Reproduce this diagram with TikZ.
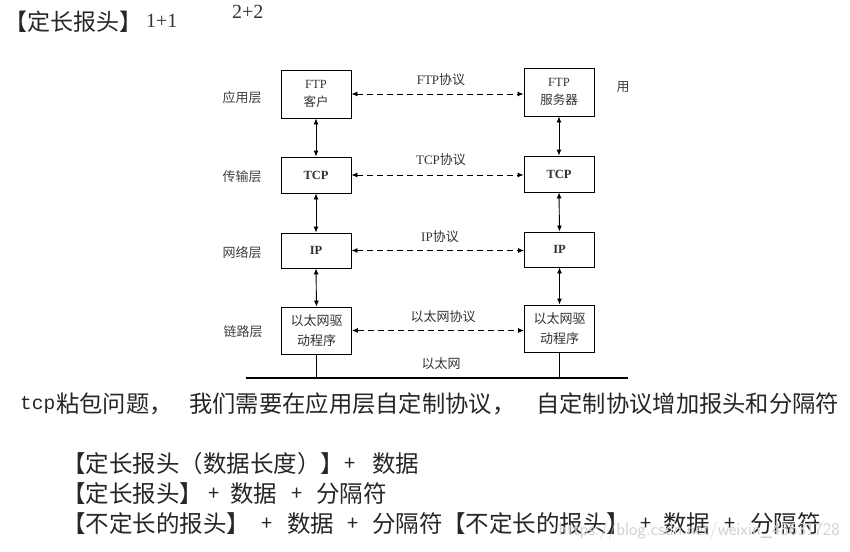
\documentclass[tikz,border=0pt]{standalone}
\usepackage{fontspec}
\setmainfont{Liberation Serif}
\setmonofont{Liberation Mono}
\newfontfamily\cjk{Noto Sans CJK SC}
\usetikzlibrary{arrows.meta}
\begin{document}
\begin{tikzpicture}[x=1pt,y=-1pt,
  box/.style={draw, line width=0.9pt, minimum width=70pt, inner sep=0pt, align=center, font=\fontsize{12.5}{18}\selectfont, text=black!80},
  boxb/.style={box, font=\bfseries\fontsize{12.5}{18}\selectfont},
  boxc/.style={box, font=\cjk\fontsize{13}{20}\selectfont},
  layer/.style={font=\cjk\fontsize{13}{15}\selectfont, text=black!75},
  plabel/.style={font=\fontsize{13}{15}\selectfont, text=black!80},
  vlink/.style={{Latex[length=6pt,width=5pt]}-{Latex[length=6pt,width=5pt]}, line width=0.9pt},
  hlink/.style={{Latex[length=6pt,width=5pt]}-{Latex[length=6pt,width=5pt]}, line width=0.9pt, dash pattern=on 6pt off 4pt},
  big/.style={font=\cjk\fontsize{23.5}{26}\selectfont, text=black!85, anchor=west, inner sep=0pt},
  plus/.style={font=\cjk\fontsize{20}{22}\selectfont, text=black!85, inner sep=0pt}
]
\useasboundingbox (0,0) rectangle (850,551);
\fill[white] (0,0) rectangle (850,551);

% header
\node[big, font=\cjk\fontsize{23}{25}\selectfont] (hdr) at (4,22) {【定长报头】};
\node[anchor=base west, inner sep=0pt, font=\fontsize{20}{22}\selectfont, text=black!80] (one) at (146,28) {1+1};
\node[anchor=base west, inner sep=0pt, font=\fontsize{20}{22}\selectfont, text=black!80] (two) at (232,19) {2+2};

% layer labels
\node[layer] (l1) at (242,98) {应用层};
\node[layer] (l2) at (242,177) {传输层};
\node[layer] (l3) at (242,253) {网络层};
\node[layer] (l4) at (243,332) {链路层};

% left column
\node[box, minimum height=48pt] (ftpL) at (316,94) {FTP\\{\cjk 客户}};
\node[boxb, minimum height=36pt] (tcpL) at (316,175) {TCP};
\node[boxb, minimum height=35pt] (ipL) at (316,250.5) {IP};
\node[boxc, minimum height=47pt] (ethL) at (316.5,330.5) {以太网驱\\动程序};

% right column
\node[box, minimum height=48pt] (ftpR) at (559,92) {FTP\\{\cjk 服务器}};
\node[boxb, minimum height=36pt] (tcpR) at (559,174) {TCP};
\node[boxb, minimum height=35pt] (ipR) at (559.5,249.5) {IP};
\node[boxc, minimum height=47pt] (ethR) at (559.5,328.5) {以太网驱\\动程序};

% vertical links
\draw[vlink] (ftpL.south) -- (tcpL.north);
\draw[vlink] (tcpL.south) -- (ipL.north);
\draw[vlink] (ipL.south) -- (ethL.north);
\draw[vlink] (ftpR.south) -- (tcpR.north);
\draw[vlink] (tcpR.south) -- (ipR.north);
\draw[vlink] (ipR.south) -- (ethR.north);

% horizontal peer links
\draw[hlink] (ftpL.east) -- (ftpL.east -| ftpR.west);
\draw[hlink] (tcpL.east) -- (tcpL.east -| tcpR.west);
\draw[hlink] (ipL.east) -- (ipL.east -| ipR.west);
\draw[hlink] (ethL.east) -- (ethL.east -| ethR.west);

\node[plabel] (p1) at (441,80) {FTP{\cjk 协议}};
\node[plabel] (p2) at (441,160) {TCP{\cjk 协议}};
\node[plabel] (p3) at (440,237) {IP{\cjk 协议}};
\node[plabel, font=\cjk\fontsize{13}{15}\selectfont] (p4) at (443,317) {以太网协议};
\node[plabel, font=\cjk\fontsize{13}{15}\selectfont] (p5) at (441,364) {以太网};
\node[layer] (yong) at (623,87) {用};

% ethernet bus
\coordinate (busW) at (246,378);
\coordinate (busE) at (628,378);
\draw[line width=2.6pt] (busW) -- (busE);
\coordinate (tapL) at (ethL.south |- busW);
\coordinate (tapR) at (ethR.south |- busW);
\draw[line width=0.9pt] (ethL.south) -- (tapL);
\draw[line width=0.9pt] (ethR.south) -- (tapR);

% bottom text, line 0
\node[big, font=\ttfamily\fontsize{19.5}{24}\selectfont] (t0a) at (20,405) {tcp};
\node[big, font=\cjk\fontsize{23.3}{26}\selectfont] (t0b) at (56,404) {粘包问题，};
\node[big, font=\cjk\fontsize{23.3}{26}\selectfont] (t0c) at (189,404) {我们需要在应用层自定制协议，};
\node[big, font=\cjk\fontsize{23.3}{26}\selectfont] (t0d) at (536,404) {自定制协议增加报头和分隔符};

% line 1
\node[big] (t1a) at (62,464) {【定长报头（数据长度）】};
\node[plus] (t1p) at (350,464) {+};
\node[big] (t1b) at (372,464) {数据};
% line 2
\node[big] (t2a) at (62,494) {【定长报头】};
\node[plus] (t2p) at (214,494) {+};
\node[big] (t2b) at (230,494) {数据};
\node[plus] (t2q) at (297,494) {+};
\node[big] (t2c) at (316,494) {分隔符};
% line 3
\node[big] (t3a) at (62,524) {【不定长的报头】};
\node[plus] (t3p) at (267,524) {+};
\node[big] (t3b) at (287,524) {数据};
\node[plus] (t3q) at (353,524) {+};
\node[big] (t3c) at (372,524) {分隔符};
\node[big] (t3d) at (442,524) {【不定长的报头】};
\node[plus] (t3r) at (646,524) {+};
\node[big] (t3e) at (663,524) {数据};
\node[plus] (t3s) at (730,524) {+};
\node[big] (t3f) at (750,524) {分隔符};

\node[anchor=east, inner sep=0pt, font=\sffamily\fontsize{18}{20}\selectfont, text=black!18] (wm) at (840,531) {https://blog.csdn.net/weixin\_45631728};
\end{tikzpicture}
\end{document}
